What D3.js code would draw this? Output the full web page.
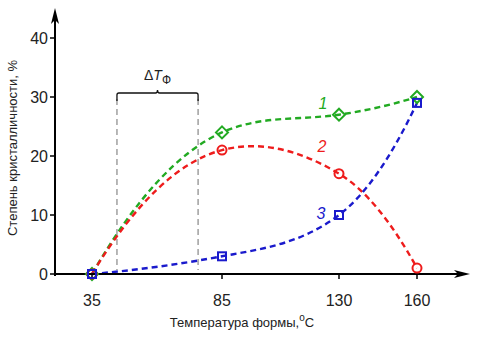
<!DOCTYPE html>
<html>
<head>
<meta charset="utf-8">
<script src="https://cdn.jsdelivr.net/npm/d3@7"></script>
<style>
  html, body { margin: 0; padding: 0; background: #fff; }
  svg { display: block; font-family: "Liberation Sans", Arial, sans-serif; }
</style>
</head>
<body>
<svg id="chart" width="479" height="337"></svg>
<script>
// Mould temperature, °C
const temperatures = [35, 85, 130, 160];
// Degree of crystallinity, % for each curve
const series1 = [0, 24, 27, 30];
const series2 = [0, 21, 17, 1];
const series3 = [0, 3, 10, 29];
const xTicks = [35, 85, 130, 160];
const yTicks = [0, 10, 20, 30, 40];
// Forming temperature window ΔTФ
const windowRange = [44.6, 75.8];

const svg = d3.select("#chart");
const x = d3.scaleLinear().domain([35, 160]).range([92, 417]);
const y = d3.scaleLinear().domain([0, 40]).range([274, 38]);
const axisX0 = 55, axisXEnd = 470, axisYTop = 8;

// Smooth Hermite curve: softened three-point tangents inside,
// quadratic end conditions at both ends.
function curveSoftSpline(context) {
  let pts = [];
  return {
    areaStart() {}, areaEnd() {},
    lineStart() { pts = []; },
    point(px, py) { pts.push([+px, +py]); },
    lineEnd() {
      const n = pts.length;
      if (!n) return;
      context.moveTo(pts[0][0], pts[0][1]);
      if (n < 3) { for (let i = 1; i < n; i++) context.lineTo(pts[i][0], pts[i][1]); return; }
      const h = [], s = [];
      for (let i = 0; i < n - 1; i++) {
        h.push(pts[i + 1][0] - pts[i][0]);
        s.push((pts[i + 1][1] - pts[i][1]) / h[i]);
      }
      const m = new Array(n);
      for (let i = 1; i < n - 1; i++) {
        m[i] = 0.75 * (h[i] * s[i - 1] + h[i - 1] * s[i]) / (h[i - 1] + h[i]);
      }
      m[0] = 2 * s[0] - m[1];
      m[n - 1] = 2 * s[n - 2] - m[n - 2];
      for (let i = 0; i < n - 1; i++) {
        const d = h[i] / 3;
        context.bezierCurveTo(
          pts[i][0] + d, pts[i][1] + m[i] * d,
          pts[i + 1][0] - d, pts[i + 1][1] - m[i + 1] * d,
          pts[i + 1][0], pts[i + 1][1]);
      }
    }
  };
}

// Forming window bracket
const bx0 = x(windowRange[0]), bx1 = x(windowRange[1]), by = 93;
const gB = svg.append("g");
gB.selectAll("line.win").data(windowRange).join("line")
  .attr("x1", d => x(d)).attr("x2", d => x(d))
  .attr("y1", by + 6).attr("y2", y(0) - 4)
  .attr("stroke", "#888").attr("stroke-width", 1.2)
  .attr("stroke-dasharray", "6,4");
const bm = (bx0 + bx1) / 2;
gB.append("path")
  .attr("d", `M${bx0},${by + 8} L${bx0},${by + 2} Q${bx0},${by} ${bx0 + 2},${by} L${bm - 2},${by} Q${bm},${by} ${bm},${by - 3} Q${bm},${by} ${bm + 2},${by} L${bx1 - 2},${by} Q${bx1},${by} ${bx1},${by + 2} L${bx1},${by + 8}`)
  .attr("fill", "none").attr("stroke", "#111").attr("stroke-width", 1.3);
const lab = gB.append("text").attr("x", bm).attr("y", 80)
  .attr("text-anchor", "middle").attr("font-size", 14).attr("fill", "#222");
lab.append("tspan").text("Δ");
lab.append("tspan").attr("font-style", "italic").text("T");
lab.append("tspan").attr("font-size", 12).attr("dy", 4).text("Ф");

// Curves
const curves = [
  { vals: series1, color: "#22aa22", marker: "diamond", label: "1", lx: 323, ly: 109 },
  { vals: series2, color: "#ee1c1c", marker: "circle", label: "2", lx: 322, ly: 152 },
  { vals: series3, color: "#1a1acc", marker: "square", label: "3", lx: 321, ly: 219 }
];
const line = d3.line().x(d => x(d[0])).y(d => y(d[1])).curve(curveSoftSpline);

curves.forEach(c => {
  const pts = temperatures.map((t, i) => [t, c.vals[i]]);
  svg.append("path").datum(pts).attr("d", line)
    .attr("fill", "none").attr("stroke", c.color)
    .attr("stroke-width", 2.4).attr("stroke-dasharray", "6,4");
});

// Axes
const ax = svg.append("g");
ax.append("line").attr("x1", axisX0).attr("x2", axisXEnd - 4)
  .attr("y1", y(0)).attr("y2", y(0)).attr("stroke", "#000").attr("stroke-width", 2);
ax.append("line").attr("x1", axisX0).attr("x2", axisX0)
  .attr("y1", y(0) + 2).attr("y2", axisYTop + 4).attr("stroke", "#000").attr("stroke-width", 2);
ax.append("path")
  .attr("d", `M${axisXEnd},${y(0)} L${axisXEnd - 16},${y(0) - 4} L${axisXEnd - 12},${y(0)} L${axisXEnd - 16},${y(0) + 4} Z`)
  .attr("fill", "#000");
ax.append("path")
  .attr("d", `M${axisX0},${axisYTop} L${axisX0 - 4},${axisYTop + 16} L${axisX0},${axisYTop + 12} L${axisX0 + 4},${axisYTop + 16} Z`)
  .attr("fill", "#000");

ax.selectAll("line.xt").data(xTicks).join("line")
  .attr("x1", d => x(d)).attr("x2", d => x(d))
  .attr("y1", y(0)).attr("y2", y(0) + 5).attr("stroke", "#000").attr("stroke-width", 1.5);
ax.selectAll("text.xt").data(xTicks).join("text")
  .attr("x", d => x(d)).attr("y", y(0) + 32)
  .attr("text-anchor", "middle").attr("font-size", 16).attr("fill", "#222")
  .text(d => d);
ax.selectAll("line.yt").data(yTicks).join("line")
  .attr("x1", axisX0 - 5).attr("x2", axisX0)
  .attr("y1", d => y(d)).attr("y2", d => y(d)).attr("stroke", "#000").attr("stroke-width", 1.5);
ax.selectAll("text.yt").data(yTicks).join("text")
  .attr("x", axisX0 - 7).attr("y", d => y(d) + 6)
  .attr("text-anchor", "end").attr("font-size", 16).attr("fill", "#222")
  .text(d => d);

// Markers
curves.forEach(c => {
  const g = svg.append("g");
  temperatures.forEach((t, i) => {
    const cx = x(t), cy = y(c.vals[i]);
    let m;
    if (c.marker === "circle") {
      m = g.append("circle").attr("cx", cx).attr("cy", cy).attr("r", 4.5);
    } else if (c.marker === "square") {
      m = g.append("rect").attr("x", cx - 4).attr("y", cy - 4).attr("width", 8).attr("height", 8);
    } else {
      m = g.append("path").attr("d", `M${cx},${cy - 6} L${cx + 6},${cy} L${cx},${cy + 6} L${cx - 6},${cy} Z`);
    }
    m.attr("fill", "none").attr("stroke", c.color).attr("stroke-width", 2);
  });
  svg.append("text").attr("x", c.lx).attr("y", c.ly)
    .attr("text-anchor", "middle").attr("font-size", 16).attr("font-style", "italic")
    .attr("fill", c.color).text(c.label);
});

// Axis titles
svg.append("text").attr("transform", "translate(17,148) rotate(-90)")
  .attr("text-anchor", "middle").attr("font-size", 13).attr("fill", "#222")
  .text("Степень кристалличности, %");
const xt = svg.append("text").attr("x", 242).attr("y", 327)
  .attr("text-anchor", "middle").attr("font-size", 13).attr("fill", "#222");
xt.append("tspan").text("Температура формы,");
xt.append("tspan").attr("font-size", 10).attr("dy", -6).text("o");
xt.append("tspan").attr("dy", 6).text("C");
</script>
</body>
</html>
